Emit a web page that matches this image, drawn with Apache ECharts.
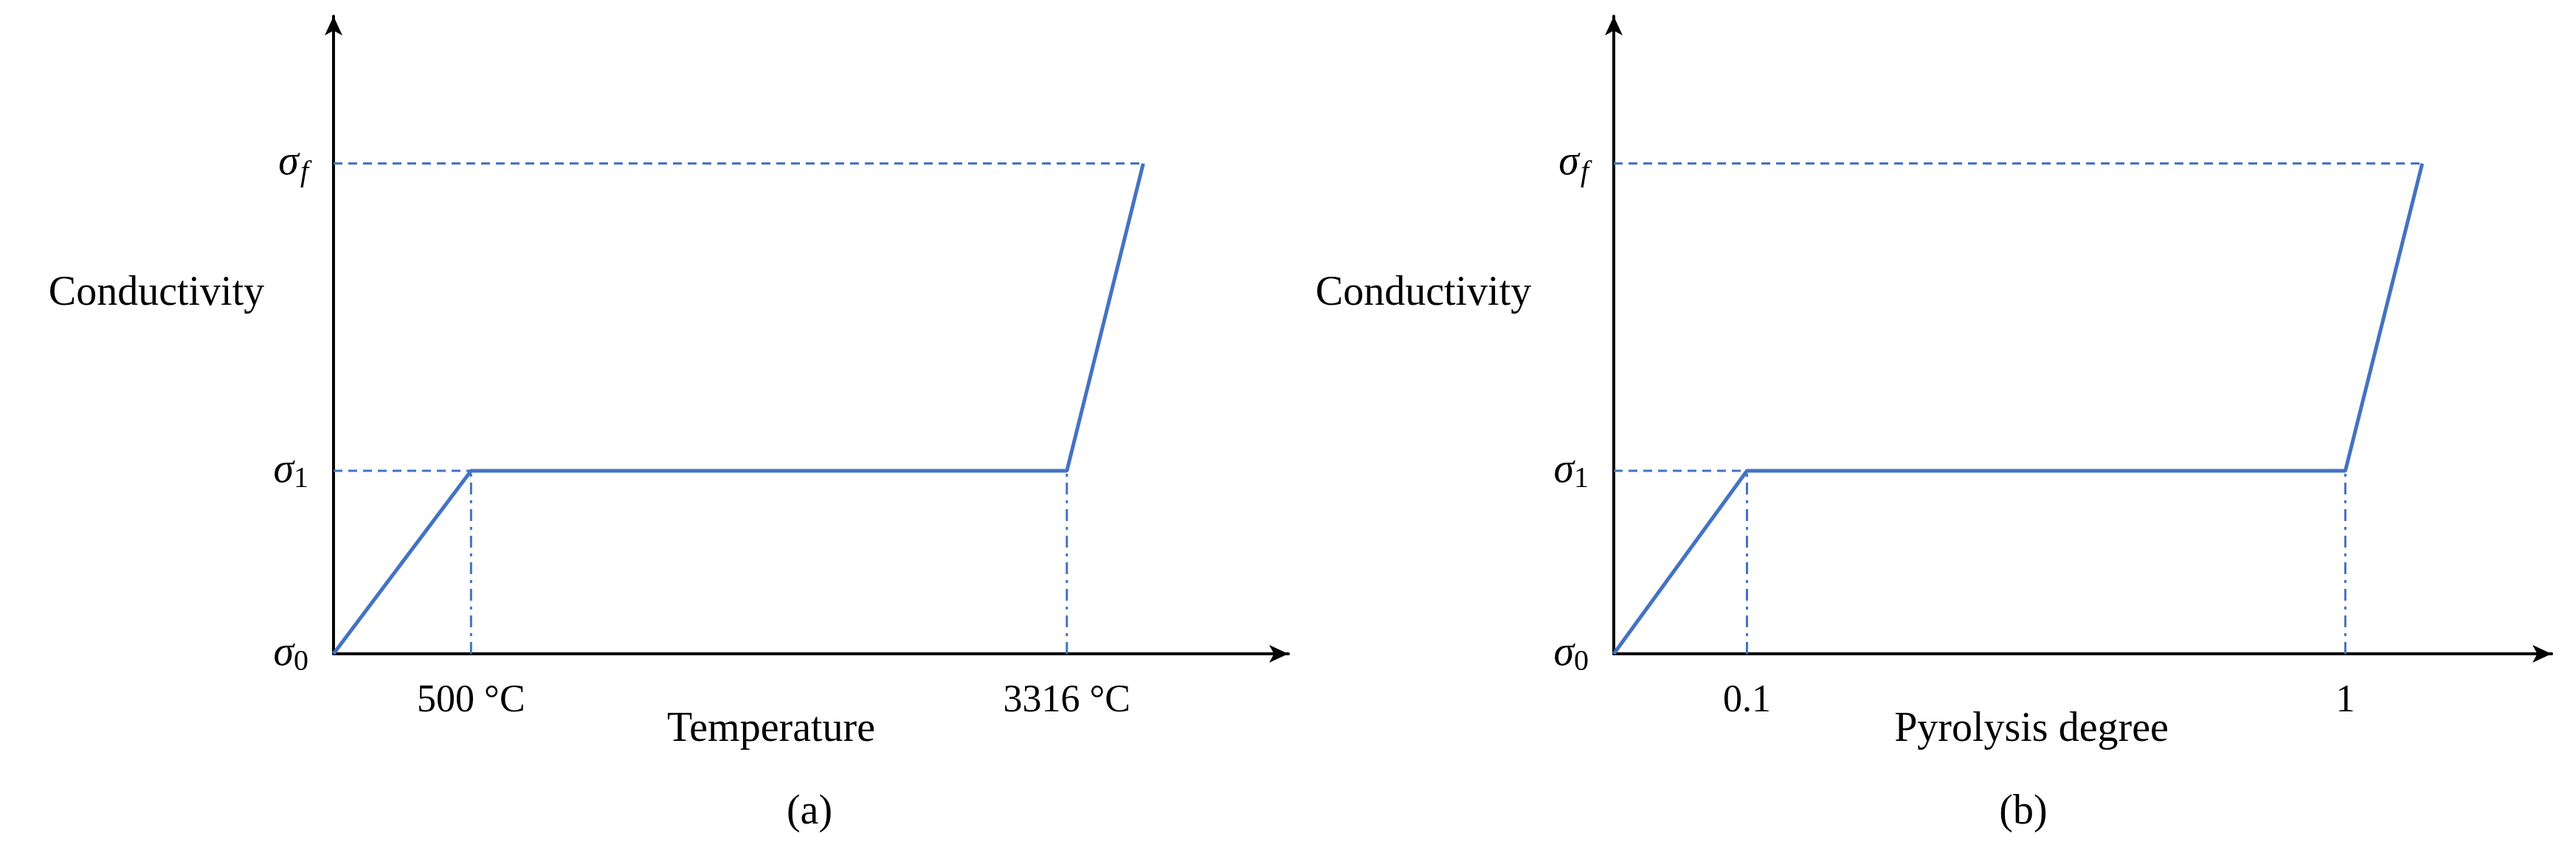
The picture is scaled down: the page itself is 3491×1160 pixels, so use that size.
<!DOCTYPE html>
<html>
<head>
<meta charset="utf-8">
<script src="https://cdn.jsdelivr.net/npm/echarts@6/dist/echarts.min.js"></script>
<style>html,body{margin:0;background:#fff}#main{width:3491px;height:1160px}</style>
</head>
<body>
<div id="main"></div>
<script>
// schematic positions, axes run 0..100
var levelNames = ['0', '1', 'f'];
var levelValues = [0, 28.7, 76.9];

var panelA = { keyX: [14.4, 76.8], keyLabels: ['500 °C', '3316 °C'], peakX: 84.8, xName: 'Temperature', tag: '(a)' };
var panelB = { keyX: [14.2, 78.0], keyLabels: ['0.1', '1'], peakX: 86.2, xName: 'Pyrolysis degree', tag: '(b)' };

var blue = '#4472C4';
var font = '"Liberation Serif", "DejaVu Serif", serif';

var grids = [
  { left: 452, top: 22, width: 1294, height: 864 },
  { left: 2187, top: 22, width: 1271, height: 864 }
];

function sigma(v) {
  var i = levelValues.indexOf(v);
  var n = levelNames[i];
  return '{s|σ}' + (n === 'f' ? '{fi|f}' : '{sub|' + n + '}');
}

var sigmaRich = {
  s: { fontFamily: font, fontStyle: 'italic', fontSize: 56, color: '#000' },
  sub: { fontFamily: font, fontSize: 40, color: '#000', padding: [22, 0, 0, 0] },
  fi: { fontFamily: font, fontStyle: 'italic', fontSize: 40, color: '#000', padding: [26, 0, 0, 2] }
};

var xAxes = [], yAxes = [], series = [];
[panelA, panelB].forEach(function (p, k) {
  xAxes.push({
    gridIndex: k, type: 'value', min: 0, max: 100,
    axisLine: { lineStyle: { color: '#000', width: 4 }, symbol: ['none', 'arrow'], symbolSize: [18, 26] },
    axisTick: { show: false },
    splitLine: { show: false },
    axisLabel: {
      customValues: p.keyX, margin: 38,
      fontFamily: font, fontSize: 52, color: '#000',
      formatter: function (v) { return p.keyLabels[p.keyX.indexOf(v)]; }
    }
  });
  yAxes.push({
    gridIndex: k, type: 'value', min: 0, max: 100,
    axisLine: { show: true, lineStyle: { color: '#000', width: 4 }, symbol: ['none', 'arrow'], symbolSize: [18, 26] },
    axisTick: { show: false },
    splitLine: { show: false },
    axisLabel: { customValues: levelValues, margin: 34, formatter: sigma, rich: sigmaRich }
  });
  var x1 = p.keyX[0], x2 = p.keyX[1], y1 = levelValues[1], yf = levelValues[2];
  var base = { type: 'line', xAxisIndex: k, yAxisIndex: k, symbol: 'none', silent: true };
  series.push(Object.assign({}, base, {
    data: [[0, 0], [x1, y1], [x2, y1], [p.peakX, yf]],
    lineStyle: { color: blue, width: 5 }, z: 5
  }));
  series.push(Object.assign({}, base, {
    data: [[0, y1], [x1, y1]], lineStyle: { color: blue, width: 3, type: [12, 8] }
  }));
  series.push(Object.assign({}, base, {
    data: [[0, yf], [p.peakX, yf]], lineStyle: { color: blue, width: 3, type: [12, 8] }
  }));
  [x1, x2].forEach(function (x) {
    series.push(Object.assign({}, base, {
      data: [[x, 0], [x, y1]], lineStyle: { color: blue, width: 3, type: [16, 8, 4, 8] }
    }));
  });
});

var txt = { fontFamily: font, fontSize: 56, fill: '#000' };
echarts.init(document.getElementById('main')).setOption({
  backgroundColor: '#fff',
  animation: false,
  grid: grids,
  xAxis: xAxes,
  yAxis: yAxes,
  series: series,
  graphic: [
    { type: 'text', x: 212, y: 398, style: Object.assign({ text: 'Conductivity', align: 'center', verticalAlign: 'middle' }, txt) },
    { type: 'text', x: 1929, y: 398, style: Object.assign({ text: 'Conductivity', align: 'center', verticalAlign: 'middle' }, txt) },
    { type: 'text', x: 1045, y: 989, style: Object.assign({ text: panelA.xName, align: 'center', verticalAlign: 'middle' }, txt) },
    { type: 'text', x: 2753, y: 989, style: Object.assign({ text: panelB.xName, align: 'center', verticalAlign: 'middle' }, txt) },
    { type: 'text', x: 1097, y: 1101, style: Object.assign({ text: panelA.tag, align: 'center', verticalAlign: 'middle' }, txt) },
    { type: 'text', x: 2742, y: 1101, style: Object.assign({ text: panelB.tag, align: 'center', verticalAlign: 'middle' }, txt) }
  ]
});
</script>
</body>
</html>
